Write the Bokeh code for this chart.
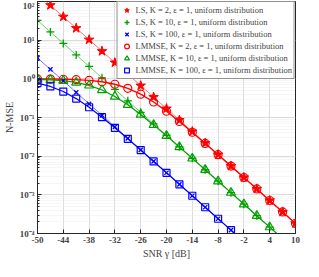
from bokeh.plotting import figure
from bokeh.models import (FixedTicker, CustomJSTickFormatter, Legend, LegendItem,
                          Range1d)
from bokeh.embed import file_html
from bokeh.resources import INLINE

snr_db = [-50, -47, -44, -41, -38, -35, -32, -29, -26, -23, -20,
          -17, -14, -11, -8, -5, -2, 1, 4, 7, 10]

ls_k2 = [158, 80, 40.4, 20.4, 10.3, 5.19, 2.62, 1.32, 0.667, 0.337, 0.170,
         0.0857, 0.0433, 0.0218, 0.0110, 0.00556, 0.00281, 0.00142,
         0.000715, 0.000361, 0.000182]
ls_k10 = [32.4, 16.3, 8.24, 4.16, 2.10, 1.06, 0.535, 0.270, 0.136, 0.0687,
          0.0347, 0.0175, 0.00883, 0.00446, 0.00225, 0.00114, 0.000573,
          0.000289, 0.000146, 0.0000736, 0.0000372]
ls_k100 = [3.47, 1.75, 0.883, 0.446, 0.225, 0.114, 0.0573, 0.0289, 0.0146,
           0.00736, 0.00372, 0.00187, 0.000946, 0.000478, 0.000241,
           0.000122, 0.0000614, 0.000031, 0.0000156, 0.0000079, 0.000004]
lmmse_k2 = [0.994, 0.988, 0.976, 0.953, 0.912, 0.838, 0.724, 0.569, 0.400,
            0.252, 0.145, 0.0789, 0.0415, 0.0213, 0.0109, 0.00553, 0.00280,
            0.00142, 0.000714, 0.000361, 0.000182]
lmmse_k10 = [0.970, 0.942, 0.892, 0.806, 0.677, 0.515, 0.349, 0.213, 0.120,
             0.0643, 0.0335, 0.0172, 0.00875, 0.00444, 0.00225, 0.00114,
             0.000573, 0.000289, 0.000146, 0.0000736, 0.0000372]
lmmse_k100 = [0.776, 0.636, 0.469, 0.308, 0.184, 0.102, 0.0542, 0.0281,
              0.0144, 0.00731, 0.00371, 0.00187, 0.000946, 0.000478,
              0.000241, 0.000122, 0.0000614, 0.000031, 0.0000156,
              0.0000079, 0.000004]

x_ticks = [-50, -44, -38, -32, -26, -20, -14, -8, -2, 4, 10]
y_ticks = [1e-4, 1e-3, 1e-2, 1e-1, 1, 10, 100]

labels = [
    "LS, K = 2, ε = 1, uniform distribution",
    "LS, K = 10, ε = 1, uniform distribution",
    "LS, K = 100, ε = 1, uniform distribution",
    "LMMSE, K = 2, ε = 1, uniform distribution",
    "LMMSE, K = 10, ε = 1, uniform distribution",
    "LMMSE, K = 100, ε = 1, uniform distribution",
]

RED = "#ff0000"
GREEN = "#00a000"
BLUE = "#0000ff"
SERIF = "Liberation Serif"
AXC = "#262626"

p = figure(width=303, height=261, y_axis_type="log",
           x_range=Range1d(-50, 10), y_range=Range1d(1e-4, 1e2),
           output_backend="svg", toolbar_location=None,
           min_border_left=26, min_border_right=8, min_border_top=1,
           min_border_bottom=22)

minor = []
for e in range(-4, 2):
    for m in range(2, 10):
        minor.append(m * 10.0 ** e)
yt = FixedTicker(ticks=y_ticks, minor_ticks=minor)
xt = FixedTicker(ticks=x_ticks, minor_ticks=[])

yfmt = CustomJSTickFormatter(code="""
const e = Math.round(Math.log10(tick));
const sup = {'-':'\u207b','0':'\u2070','1':'\u00b9','2':'\u00b2','3':'\u00b3',
 '4':'\u2074','5':'\u2075','6':'\u2076','7':'\u2077','8':'\u2078','9':'\u2079'};
return '10' + String(e).split('').map(c => sup[c]).join('');
""")
xfmt = CustomJSTickFormatter(code="return String(Math.round(tick));")

p.yaxis.ticker = yt
p.yaxis.formatter = yfmt
p.xaxis.ticker = xt
p.xaxis.formatter = xfmt
for ax in [p.xaxis[0], p.yaxis[0]]:
    ax.major_tick_in = 4
    ax.major_tick_out = 0
    ax.minor_tick_in = 2
    ax.minor_tick_out = 0
    ax.major_label_text_font = SERIF
    ax.major_label_text_font_style = "bold"
    ax.major_label_text_font_size = "9px"
    ax.major_label_standoff = 3
    ax.axis_label_text_font = SERIF
    ax.axis_label_text_font_style = "normal"
    ax.axis_label_text_font_size = "10px"
    ax.axis_label_standoff = 2
    ax.axis_line_color = AXC
    ax.major_tick_line_color = AXC
    ax.minor_tick_line_color = AXC
p.xaxis.axis_label = "SNR γ [dB]"
p.yaxis.axis_label = "N-MSE"

p.xgrid.ticker = xt
p.ygrid.ticker = yt
p.xgrid.grid_line_color = "#dcdcdc"
p.ygrid.grid_line_color = "#dcdcdc"
p.ygrid.minor_grid_line_color = "#ececec"
p.ygrid.minor_grid_line_dash = "1 1"
p.outline_line_color = AXC
p.outline_line_alpha = 1

# LS lines (thin, light)
p.line(snr_db, ls_k2, color=RED, line_width=1, line_alpha=0.55)
p.line(snr_db, ls_k10, color=GREEN, line_width=1, line_alpha=0.55)
p.line(snr_db, ls_k100, color=BLUE, line_width=1, line_alpha=0.55)
# LMMSE lines
p.line(snr_db, lmmse_k2, color=RED, line_width=1.4)
p.line(snr_db, lmmse_k10, color=GREEN, line_width=1.2)
p.line(snr_db, lmmse_k100, color=BLUE, line_width=1.2)

r1 = p.scatter(snr_db, ls_k2, marker="star", size=10, fill_color=RED,
               line_color=RED)
r2 = p.scatter(snr_db, ls_k10, marker="cross", size=8, line_color=GREEN,
               line_width=1.3)
r3 = p.scatter(snr_db, ls_k100, marker="x", size=6, line_color=BLUE,
               line_width=1.3)
r4 = p.scatter(snr_db, lmmse_k2, marker="circle", size=8, fill_color=None,
               line_color=RED, line_width=1.2)
r5 = p.scatter(snr_db, lmmse_k10, marker="triangle", size=9, fill_color=None,
               line_color=GREEN, line_width=1.2)
r6 = p.scatter(snr_db, lmmse_k100, marker="square", size=7, fill_color=None,
               line_color=BLUE, line_width=1.2)

items = [LegendItem(label=l, renderers=[r]) for l, r in
         zip(labels, [r1, r2, r3, r4, r5, r6])]
leg = Legend(items=items, location="top_right",
             label_text_font=SERIF, label_text_font_size="8.5px",
             label_height=12, glyph_height=12, glyph_width=14,
             spacing=0, padding=2, margin=0, label_standoff=2,
             border_line_color=AXC, background_fill_alpha=1)
p.add_layout(leg, "center")

open("out.html", "w").write(file_html(p, INLINE))
